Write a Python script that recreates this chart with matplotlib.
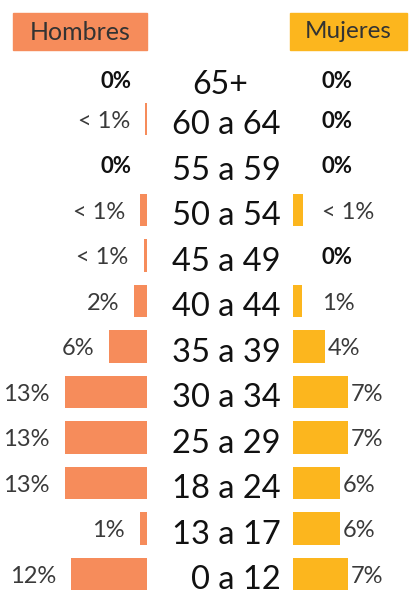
import matplotlib
matplotlib.use('Agg')
import matplotlib.pyplot as plt
from matplotlib import transforms
from matplotlib.patches import Rectangle

# Datos (de abajo hacia arriba)
grupos = ['0 a 12', '13 a 17', '18 a 24', '25 a 29', '30 a 34', '35 a 39',
          '40 a 44', '45 a 49', '50 a 54', '55 a 59', '60 a 64', '65+']
hombres = [12, 1.1, 13, 13, 13, 6, 2, 0.5, 1.1, 0, 0.3, 0]
hombres_txt = ['12%', '1%', '13%', '13%', '13%', '6%', '2%', '< 1%', '< 1%', '0%', '< 1%', '0%']
mujeres = [7, 6, 6, 7, 7, 4, 1.1, 0, 1.25, 0, 0, 0]
mujeres_txt = ['7%', '6%', '6%', '7%', '7%', '4%', '1%', '0%', '< 1%', '0%', '0%', '0%']

c_hom = '#F68C5B'
c_muj = '#FCB61E'

plt.rcParams['font.family'] = ['Lato', 'DejaVu Sans']

W, H = 409, 603
fig = plt.figure(figsize=(W / 100, H / 100), dpi=100)
fig.patch.set_facecolor('white')

def fx(px):
    return px / W

def fy(py):
    return (H - py) / H

paso = 45.5
y_top = 574 - paso * 11.5
y_bot = 574 + paso * 0.5
alto = (y_bot - y_top) / H

ax_h = fig.add_axes([0, fy(y_bot), fx(147), alto])
ax_m = fig.add_axes([fx(293), fy(y_bot), fx(116), alto])

esc_h = 6.3
esc_m = 7.9
ys = list(range(len(grupos)))

ax_h.barh(ys, hombres, height=0.71, color=c_hom)
ax_h.set_xlim(147 / esc_h, 0)
ax_m.barh(ys, mujeres, height=0.71, color=c_muj)
ax_m.set_xlim(0, 116 / esc_m)

for ax in (ax_h, ax_m):
    ax.set_ylim(-0.5, 11.5)
    ax.axis('off')

def estilo(t):
    if t == '0%':
        return dict(fontsize=16, fontweight='bold', color='#111111')
    return dict(fontsize=17, color='#3a3a3a')

def dy(i):
    # la fila superior queda algo más baja en el original
    return -4 if i == 11 else 0

for i, (v, t) in enumerate(zip(hombres, hombres_txt)):
    ax_h.annotate(t, (v, i), xytext=(-11, -1.5 + dy(i)), textcoords='offset points',
                  ha='right', va='center', **estilo(t))

umbral = 29 / esc_m
for i, (v, t) in enumerate(zip(mujeres, mujeres_txt)):
    if v + 0.4 < umbral:
        ax_m.annotate(t, (umbral, i), xytext=(0, -1.5 + dy(i)), textcoords='offset points',
                      ha='left', va='center', **estilo(t))
    else:
        ax_m.annotate(t, (v, i), xytext=(2, -1.5 + dy(i)), textcoords='offset points',
                      ha='left', va='center', **estilo(t))

trans = transforms.blended_transform_factory(fig.transFigure, ax_h.transData)
for i, g in enumerate(grupos):
    if g == '65+':
        ax_h.annotate(g, (fx(220), i), xycoords=trans, xytext=(0, -4.5 + dy(i)),
                      textcoords='offset points', ha='center', va='center',
                      fontsize=23, color='#111111')
    else:
        ax_h.annotate(g, (fx(281), i), xycoords=trans, xytext=(0, -4.5),
                      textcoords='offset points', ha='right', va='center',
                      fontsize=23.5, color='#111111')

# Encabezados
fig.patches.append(Rectangle((fx(13), fy(50)), fx(147) - fx(13), fy(13) - fy(50),
                             transform=fig.transFigure, color=c_hom, zorder=0))
fig.patches.append(Rectangle((fx(290), fy(50)), fx(407) - fx(290), fy(13) - fy(50),
                             transform=fig.transFigure, color=c_muj, zorder=0))
fig.text(fx(80.5), fy(32), 'Hombres', ha='center', va='center', fontsize=18, color='#333333')
fig.text(fx(348), fy(32), 'Mujeres', ha='center', va='center', fontsize=17.5, color='#333333')

fig.savefig('out.png', dpi=100)
